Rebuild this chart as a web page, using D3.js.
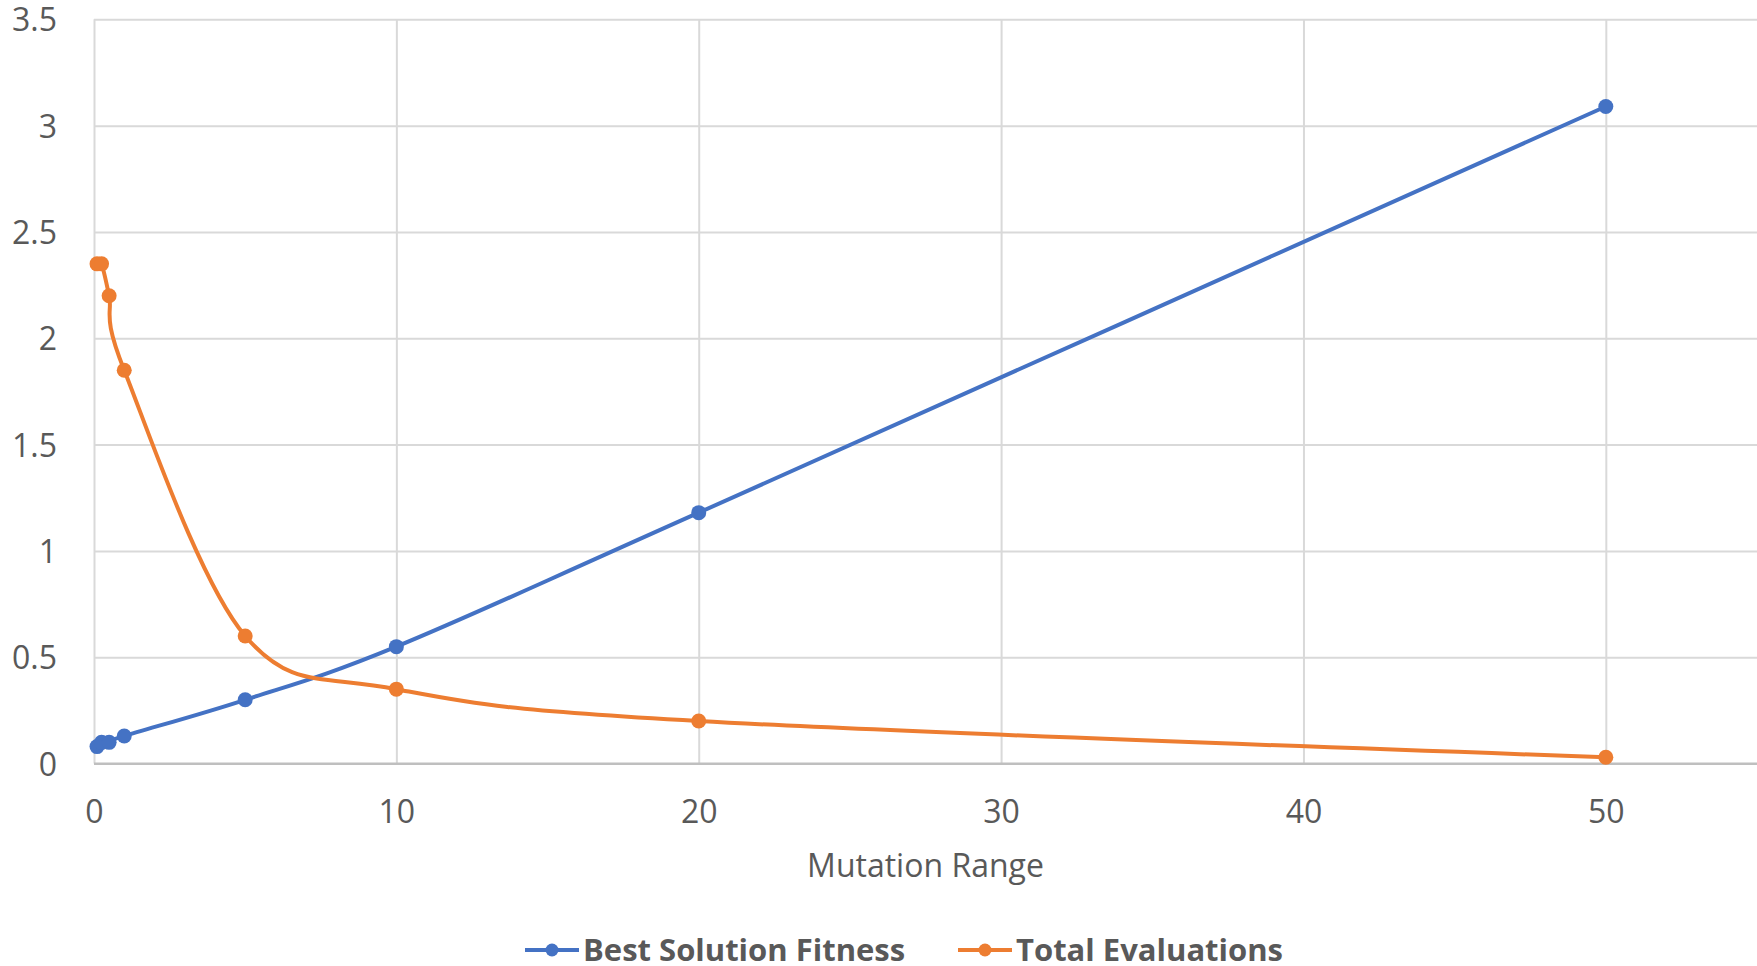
<!DOCTYPE html>
<html>
<head>
<meta charset="utf-8">
<script src="https://cdn.jsdelivr.net/npm/d3@7"></script>
<style>
  body { margin: 0; background: #fff; }
  svg text { font-family: "Open Sans", sans-serif; fill: #595959; }
</style>
</head>
<body>
<div id="chart"></div>
<script>
// data
const mutationRange = [0.1, 0.25, 0.5, 1, 5, 10, 20, 50];
const bestFitness = [0.08, 0.1, 0.1, 0.13, 0.3, 0.55, 1.18, 3.09];
const totalEvals = [2.35, 2.35, 2.2, 1.85, 0.6, 0.35, 0.2, 0.03];
const xTicks = [0, 10, 20, 30, 40, 50];
const yTicks = [0, 0.5, 1, 1.5, 2, 2.5, 3, 3.5];
const seriesNames = ['Best Solution Fitness', 'Total Evaluations'];
const seriesColors = ['#4472C4', '#ED7D31'];

const width = 1757;
const height = 966;

const svg = d3.select('#chart')
              .append('svg')
              .attr('width', width)
              .attr('height', height);

const x = d3.scaleLinear().domain([0, 55]).range([94, 1757]);
const y = d3.scaleLinear().domain([0, 3.5]).range([763.6, 19.3]);

// horizontal gridlines + y labels
const yAxis = svg.append('g')
                 .attr('transform', 'translate(' + x(0) + ',0)')
                 .call(d3.axisLeft(y).tickValues(yTicks)
                         .tickSize(-(x(55) - x(0)))
                         .tickFormat(d3.format('')));
yAxis.select('.domain').remove();
yAxis.selectAll('line')
     .attr('stroke', (d) => d === 0 ? '#bfbfbf' : '#d9d9d9')
     .attr('stroke-width', 2);
yAxis.selectAll('text')
     .attr('x', 57 - x(0))
     .attr('dy', '0.36em')
     .style('font-size', '32px')
     .style('text-anchor', 'end');

// vertical gridlines + x labels
const xAxis = svg.append('g')
                 .attr('transform', 'translate(0,' + y(0) + ')')
                 .call(d3.axisBottom(x).tickValues(xTicks)
                         .tickSize(-(y(0) - y(3.5)))
                         .tickFormat(d3.format('')));
xAxis.select('.domain').remove();
xAxis.selectAll('line')
     .attr('stroke', '#d9d9d9')
     .attr('stroke-width', 2);
xAxis.selectAll('text')
     .attr('y', 59)
     .attr('dy', 0)
     .style('font-size', '32px');

// bottom axis line drawn on top of the vertical grid
svg.append('line')
   .attr('x1', x(0)).attr('x2', x(55))
   .attr('y1', y(0)).attr('y2', y(0))
   .attr('stroke', '#bfbfbf')
   .attr('stroke-width', 2);

svg.append('text')
   .attr('x', (x(0) + x(55)) / 2)
   .attr('y', 877)
   .attr('text-anchor', 'middle')
   .style('font-size', '32px')
   .text('Mutation Range');

const line = d3.line()
               .x((d) => x(d[0]))
               .y((d) => y(d[1]))
               .curve(d3.curveCardinal.tension(0));

[bestFitness, totalEvals].forEach((vals, k) => {
  const pts = mutationRange.map((m, i) => [m, vals[i]]);
  svg.append('path')
     .datum(pts)
     .attr('fill', 'none')
     .attr('stroke', seriesColors[k])
     .attr('stroke-width', 4)
     .attr('d', line);
  svg.selectAll('.pt' + k)
     .data(pts)
     .enter()
     .append('circle')
     .attr('class', 'pt' + k)
     .attr('cx', (d) => x(d[0]))
     .attr('cy', (d) => y(d[1]))
     .attr('r', 7.5)
     .attr('fill', seriesColors[k]);
});

// legend
const legendX = [525, 958];
const legend = svg.selectAll('.legend')
                  .data(seriesNames)
                  .enter()
                  .append('g')
                  .attr('class', 'legend')
                  .attr('transform', (d, i) => 'translate(' + legendX[i] + ',950)');
legend.append('line')
      .attr('x1', 0).attr('x2', 54)
      .attr('stroke', (d, i) => seriesColors[i])
      .attr('stroke-width', 4);
legend.append('circle')
      .attr('cx', 27)
      .attr('r', 6.5)
      .attr('fill', (d, i) => seriesColors[i]);
legend.append('text')
      .attr('x', 58)
      .attr('dy', '0.34em')
      .style('font-size', '31px')
      .style('font-weight', 'bold')
      .text((d) => d);
</script>
</body>
</html>
